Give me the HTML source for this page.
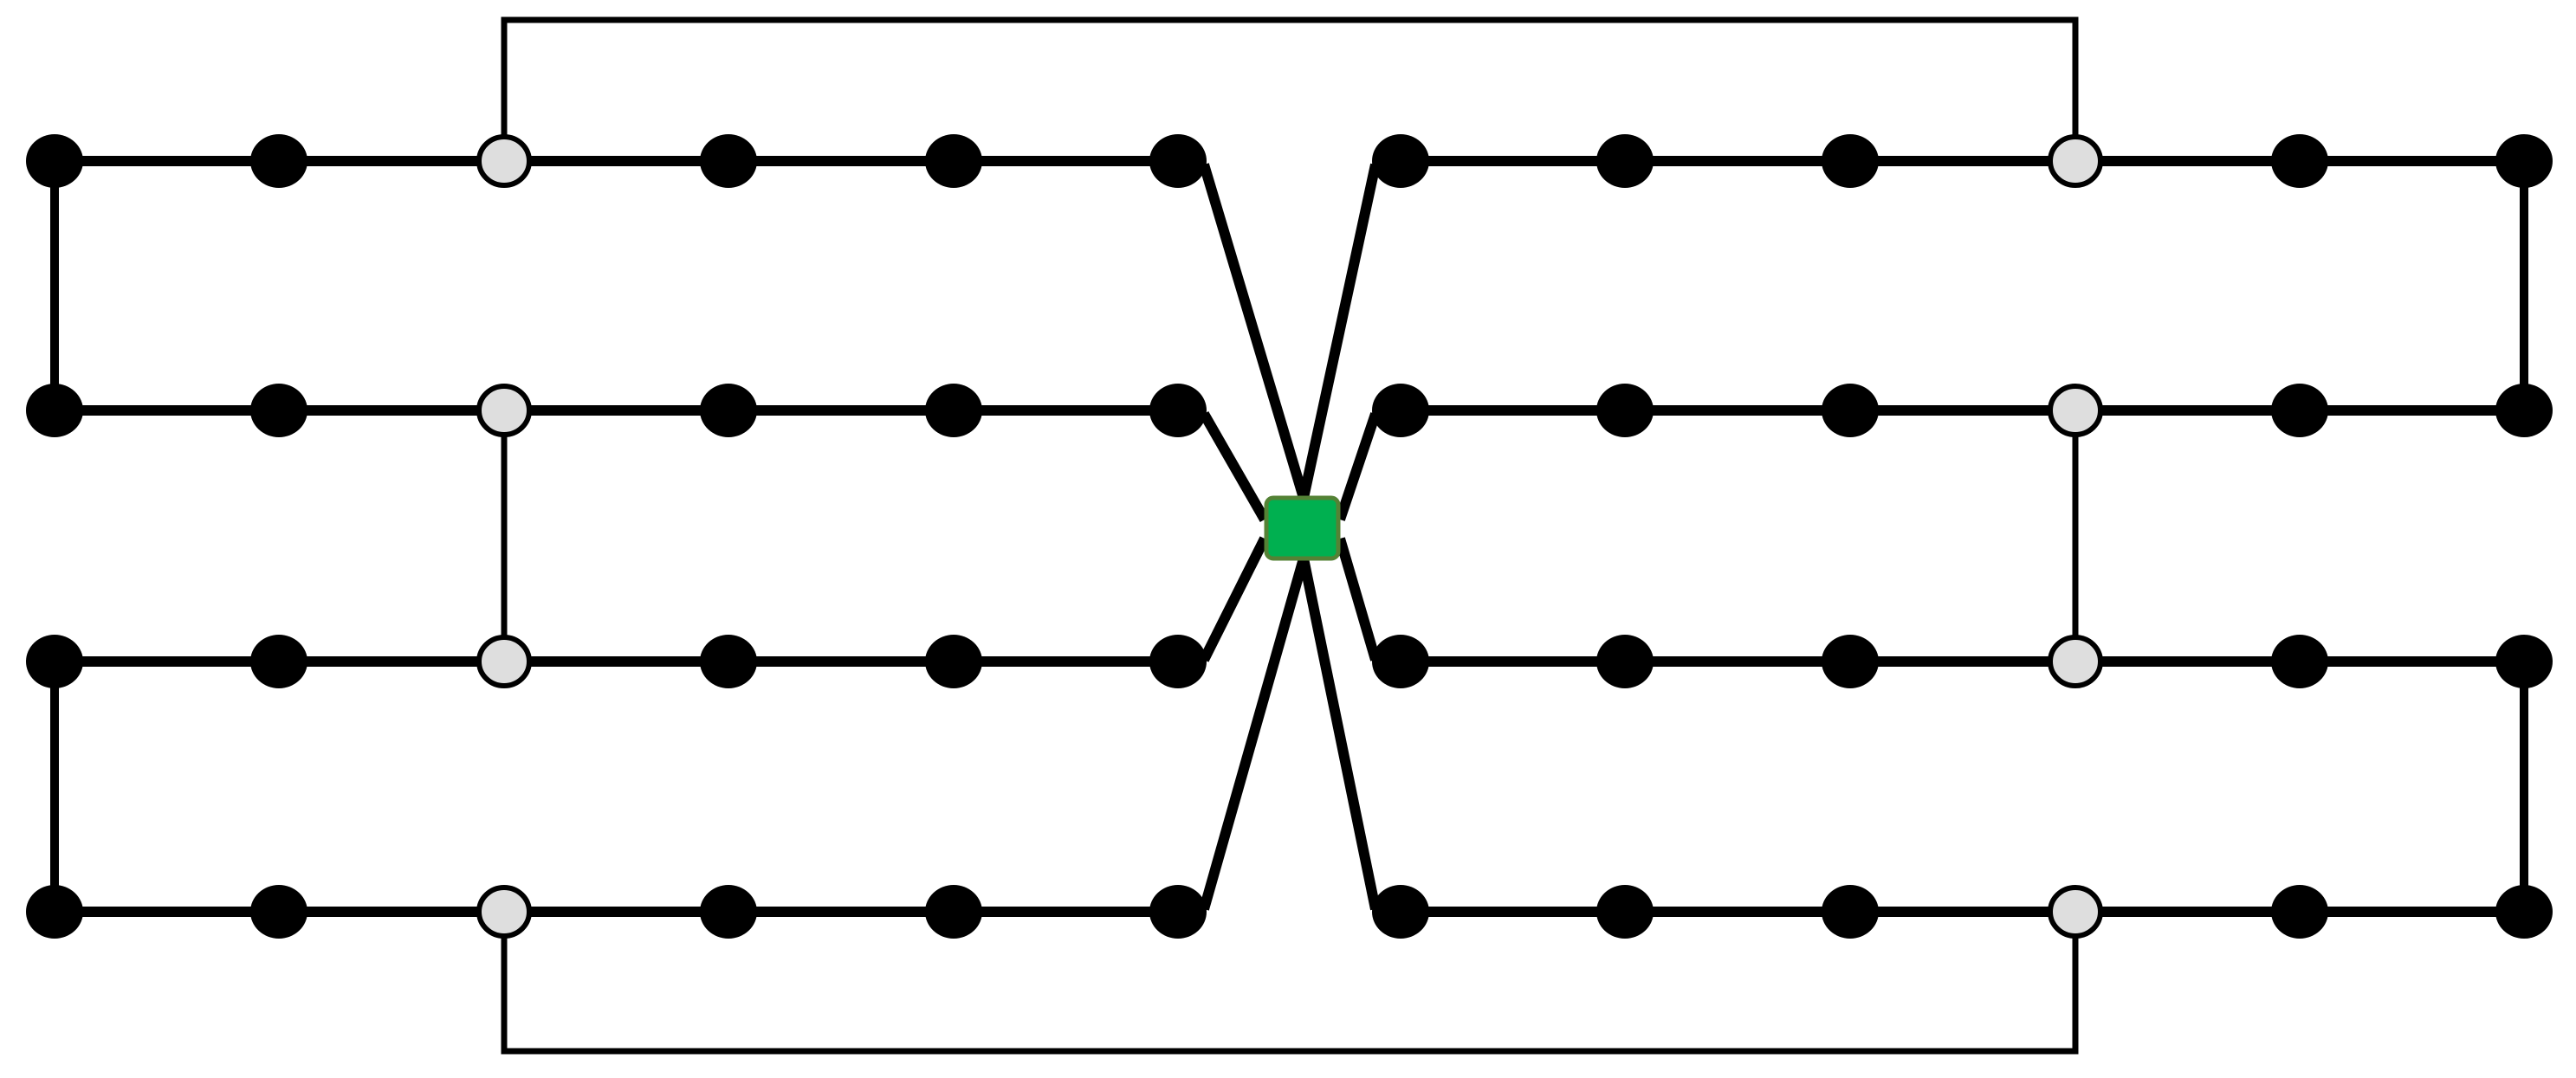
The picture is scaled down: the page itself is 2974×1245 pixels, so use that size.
<!DOCTYPE html>
<html><head><style>html,body{margin:0;padding:0;background:#fff}svg{display:block}</style></head>
<body>
<svg width="2974" height="1245" viewBox="0 0 2974 1245" xmlns="http://www.w3.org/2000/svg">
<g fill="none" stroke="#000">
<polyline points="582,186 582,23 2396,23 2396,186" stroke-width="7"/>
<polyline points="582,1053 582,1214 2396,1214 2396,1053" stroke-width="7"/>
<line x1="582" y1="474" x2="582" y2="764" stroke-width="7"/>
<line x1="2396" y1="474" x2="2396" y2="764" stroke-width="7"/>
<g stroke-width="10">
<line x1="63" y1="186" x2="63" y2="474"/>
<line x1="63" y1="764" x2="63" y2="1053"/>
<line x1="2914" y1="186" x2="2914" y2="474"/>
<line x1="2914" y1="764" x2="2914" y2="1053"/>
</g>
<g stroke-width="12">
<line x1="63" y1="186" x2="1360" y2="186"/>
<line x1="63" y1="474" x2="1360" y2="474"/>
<line x1="63" y1="764" x2="1360" y2="764"/>
<line x1="63" y1="1053" x2="1360" y2="1053"/>
<line x1="1617" y1="186" x2="2914" y2="186"/>
<line x1="1617" y1="474" x2="2914" y2="474"/>
<line x1="1617" y1="764" x2="2914" y2="764"/>
<line x1="1617" y1="1053" x2="2914" y2="1053"/>
<line x1="1390" y1="190" x2="1505" y2="575"/>
<line x1="1390" y1="478" x2="1460" y2="600"/>
<line x1="1390" y1="762" x2="1460" y2="622"/>
<line x1="1390" y1="1050" x2="1505" y2="645"/>
<line x1="1588" y1="190" x2="1505" y2="575"/>
<line x1="1588" y1="478" x2="1547" y2="600"/>
<line x1="1588" y1="762" x2="1547" y2="622"/>
<line x1="1588" y1="1050" x2="1505" y2="645"/>
</g>
</g>
<g fill="#000">
<ellipse cx="63" cy="186" rx="33" ry="31"/><ellipse cx="322" cy="186" rx="33" ry="31"/><ellipse cx="841" cy="186" rx="33" ry="31"/><ellipse cx="1101" cy="186" rx="33" ry="31"/><ellipse cx="1360" cy="186" rx="33" ry="31"/>
<ellipse cx="63" cy="474" rx="33" ry="31"/><ellipse cx="322" cy="474" rx="33" ry="31"/><ellipse cx="841" cy="474" rx="33" ry="31"/><ellipse cx="1101" cy="474" rx="33" ry="31"/><ellipse cx="1360" cy="474" rx="33" ry="31"/>
<ellipse cx="63" cy="764" rx="33" ry="31"/><ellipse cx="322" cy="764" rx="33" ry="31"/><ellipse cx="841" cy="764" rx="33" ry="31"/><ellipse cx="1101" cy="764" rx="33" ry="31"/><ellipse cx="1360" cy="764" rx="33" ry="31"/>
<ellipse cx="63" cy="1053" rx="33" ry="31"/><ellipse cx="322" cy="1053" rx="33" ry="31"/><ellipse cx="841" cy="1053" rx="33" ry="31"/><ellipse cx="1101" cy="1053" rx="33" ry="31"/><ellipse cx="1360" cy="1053" rx="33" ry="31"/>
<ellipse cx="1617" cy="186" rx="33" ry="31"/><ellipse cx="1876" cy="186" rx="33" ry="31"/><ellipse cx="2136" cy="186" rx="33" ry="31"/><ellipse cx="2655" cy="186" rx="33" ry="31"/><ellipse cx="2914" cy="186" rx="33" ry="31"/>
<ellipse cx="1617" cy="474" rx="33" ry="31"/><ellipse cx="1876" cy="474" rx="33" ry="31"/><ellipse cx="2136" cy="474" rx="33" ry="31"/><ellipse cx="2655" cy="474" rx="33" ry="31"/><ellipse cx="2914" cy="474" rx="33" ry="31"/>
<ellipse cx="1617" cy="764" rx="33" ry="31"/><ellipse cx="1876" cy="764" rx="33" ry="31"/><ellipse cx="2136" cy="764" rx="33" ry="31"/><ellipse cx="2655" cy="764" rx="33" ry="31"/><ellipse cx="2914" cy="764" rx="33" ry="31"/>
<ellipse cx="1617" cy="1053" rx="33" ry="31"/><ellipse cx="1876" cy="1053" rx="33" ry="31"/><ellipse cx="2136" cy="1053" rx="33" ry="31"/><ellipse cx="2655" cy="1053" rx="33" ry="31"/><ellipse cx="2914" cy="1053" rx="33" ry="31"/>
</g>
<g fill="#dedede" stroke="#000" stroke-width="6">
<ellipse cx="582" cy="186" rx="29" ry="28"/><ellipse cx="582" cy="474" rx="29" ry="28"/><ellipse cx="582" cy="764" rx="29" ry="28"/><ellipse cx="582" cy="1053" rx="29" ry="28"/>
<ellipse cx="2396" cy="186" rx="29" ry="28"/><ellipse cx="2396" cy="474" rx="29" ry="28"/><ellipse cx="2396" cy="764" rx="29" ry="28"/><ellipse cx="2396" cy="1053" rx="29" ry="28"/>
</g>
<rect x="1462" y="575" width="83" height="70" rx="8" fill="#00B050" stroke="#548235" stroke-width="5"/>
</svg>
</body></html>
